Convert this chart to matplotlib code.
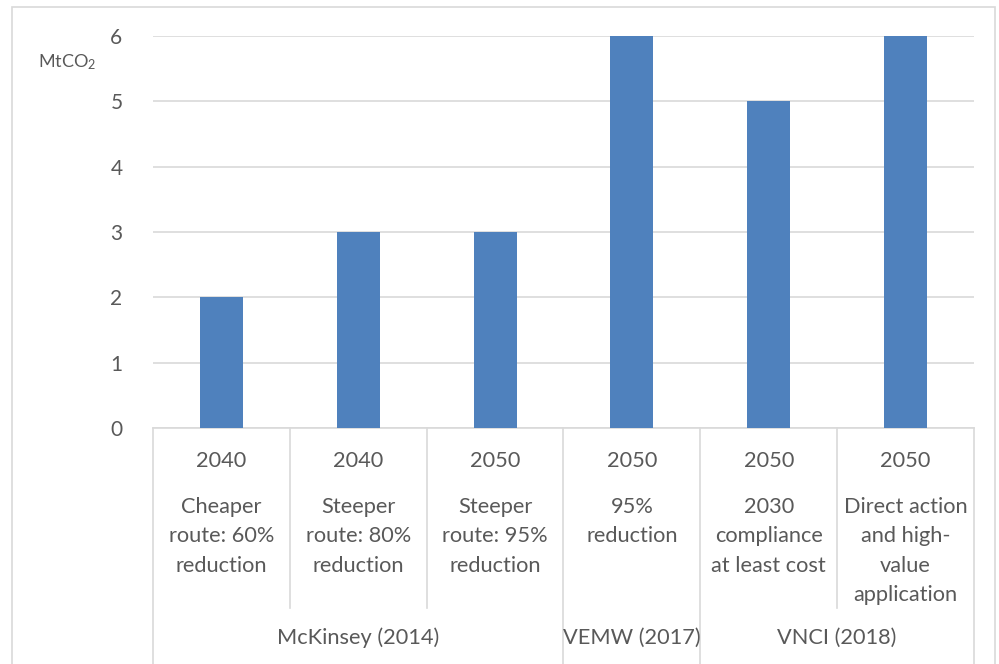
import matplotlib
matplotlib.use("Agg")
import matplotlib.pyplot as plt
from matplotlib.patches import Rectangle

plt.rcParams['font.family'] = ['Lato', 'DejaVu Sans']
plt.rcParams['mathtext.fontset'] = 'custom'
plt.rcParams['mathtext.rm'] = 'Lato'
plt.rcParams['mathtext.default'] = 'regular'

# data
years = ['2040', '2040', '2050', '2050', '2050', '2050']
scenarios = [
    ['Cheaper', 'route: 60%', 'reduction'],
    ['Steeper', 'route: 80%', 'reduction'],
    ['Steeper', 'route: 95%', 'reduction'],
    ['95%', 'reduction'],
    ['2030', 'compliance', 'at least cost'],
    ['Direct action', 'and high-', 'value', 'application'],
]
sources = ['McKinsey (2014)', 'VEMW (2017)', 'VNCI (2018)']
source_sizes = [3, 1, 2]
values = [2, 3, 3, 6, 5, 6]

bar_color = '#4F81BD'
text_color = '#595959'
line_color = '#D9D9D9'
label_size = 15.7

W, H = 999, 664
fig = plt.figure(figsize=(W / 100, H / 100), dpi=100)

# chart frame
fig.patches.append(Rectangle((12 / W, -0.1), (995 - 12) / W, 1.1 - 7 / H,
                             transform=fig.transFigure, fill=False,
                             edgecolor=line_color, linewidth=1.2))

x0, x1 = 153, 974
y_top, y_bot = 36, 428
ax = fig.add_axes([x0 / W, 1 - y_bot / H, (x1 - x0) / W, (y_bot - y_top) / H])

n = len(values)
ax.bar(range(n), values, width=0.315, color=bar_color, zorder=3)
ax.set_xlim(-0.5, n - 0.5)
ax.set_ylim(0, 6)
ax.set_yticks(range(0, 7))
ax.set_xticks([])
ax.tick_params(axis='y', length=0, pad=22, labelsize=15, labelcolor=text_color)
ax.grid(axis='y', color=line_color, linewidth=1.2, zorder=0)
for s in ['top', 'right', 'left']:
    ax.spines[s].set_visible(False)
ax.spines['bottom'].set_color(line_color)
ax.spines['bottom'].set_linewidth(1.2)

fig.text(38 / W, 1 - 62 / H, 'MtCO$_2$', fontsize=13, color=text_color,
         ha='left', va='center')

span = y_bot - y_top


def ay(ypix):
    return (y_bot - ypix) / span


tr = ax.get_xaxis_transform()

# category separators
group_edges = [-0.5]
for size in source_sizes:
    group_edges.append(group_edges[-1] + size)
for k in range(n + 1):
    xb = k - 0.5
    y_end = ay(680) if xb in group_edges else ay(608)
    ax.plot([xb, xb], [0, y_end], transform=tr, color=line_color,
            linewidth=1.2, clip_on=False)

# inner labels
for i in range(n):
    ax.text(i, ay(461), years[i], transform=tr, ha='center', va='center',
            fontsize=label_size, color=text_color)
    for j, line in enumerate(scenarios[i]):
        ax.text(i, ay(507 + 29.3 * j), line, transform=tr, ha='center',
                va='center', fontsize=label_size, color=text_color)

# outer group labels
for g, name in enumerate(sources):
    xc = (group_edges[g] + group_edges[g + 1]) / 2
    ax.text(xc, ay(638), name, transform=tr, ha='center', va='center',
            fontsize=label_size, color=text_color)

fig.savefig('out.png', dpi=100)
